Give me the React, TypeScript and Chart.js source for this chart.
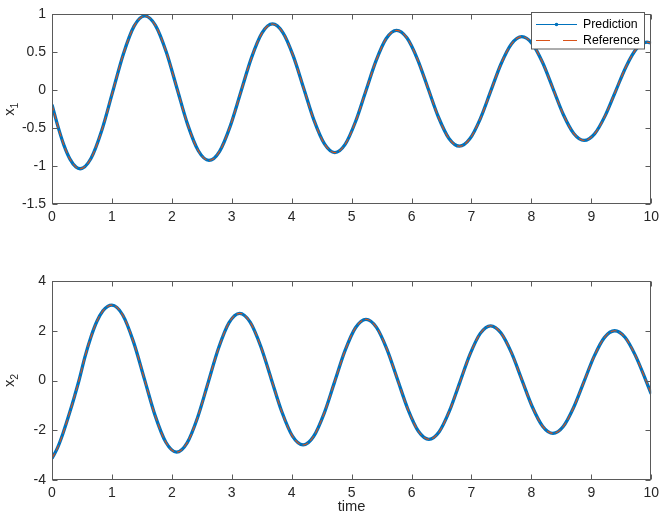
import React, { useEffect, useRef } from "react";
import { Chart, registerables } from "chart.js";

Chart.register(...registerables);

// ---- data ----
const time1 = [
  0, 0.1, 0.2, 0.3, 0.4, 0.47,
  0.65, 0.83, 1.01, 1.19, 1.37, 1.55,
  1.728, 1.907, 2.085, 2.263, 2.442, 2.62,
  2.797, 2.973, 3.15, 3.327, 3.503, 3.68,
  3.853, 4.027, 4.2, 4.373, 4.547, 4.72,
  4.892, 5.063, 5.235, 5.407, 5.578, 5.75,
  5.925, 6.1, 6.275, 6.45, 6.625, 6.8,
  6.973, 7.147, 7.32, 7.493, 7.667, 7.84,
  8.013, 8.187, 8.36, 8.533, 8.707, 8.88,
  9.055, 9.23, 9.405, 9.58, 9.755, 9.93, 10,
];
const x1Prediction = [
  -0.19, -0.48, -0.727, -0.908, -1.013, -1.035,
  -0.9, -0.531, -0.028, 0.476, 0.845, 0.98,
  0.852, 0.504, 0.027, -0.45, -0.798, -0.926,
  -0.805, -0.476, -0.026, 0.424, 0.753, 0.874,
  0.76, 0.45, 0.026, -0.398, -0.708, -0.822,
  -0.714, -0.419, -0.016, 0.387, 0.682, 0.79,
  0.688, 0.408, 0.026, -0.356, -0.636, -0.738,
  -0.641, -0.377, -0.016, 0.346, 0.61, 0.707,
  0.615, 0.365, 0.023, -0.32, -0.57, -0.662,
  -0.575, -0.338, -0.014, 0.311, 0.548, 0.635, 0.62,
];
const x1Reference = [
  -0.19, -0.48, -0.727, -0.908, -1.013, -1.035,
  -0.9, -0.531, -0.028, 0.476, 0.845, 0.98,
  0.852, 0.504, 0.027, -0.45, -0.798, -0.926,
  -0.805, -0.476, -0.026, 0.424, 0.753, 0.874,
  0.76, 0.45, 0.026, -0.398, -0.708, -0.822,
  -0.714, -0.419, -0.016, 0.387, 0.682, 0.79,
  0.688, 0.408, 0.026, -0.356, -0.636, -0.738,
  -0.641, -0.377, -0.016, 0.346, 0.61, 0.707,
  0.615, 0.365, 0.023, -0.32, -0.57, -0.662,
  -0.575, -0.338, -0.014, 0.311, 0.548, 0.635, 0.62,
];

const time2 = [
  0, 0.09, 0.18, 0.3, 0.38, 0.45, 0.55, 0.65, 0.75, 0.85, 0.93, 1.0,
  1.18, 1.36, 1.54, 1.72, 1.9, 2.08,
  2.255, 2.43, 2.605, 2.78, 2.955, 3.13,
  3.307, 3.483, 3.66, 3.837, 4.013, 4.19,
  4.365, 4.54, 4.715, 4.89, 5.065, 5.24,
  5.415, 5.59, 5.765, 5.94, 6.115, 6.29,
  6.462, 6.633, 6.805, 6.977, 7.148, 7.32,
  7.493, 7.667, 7.84, 8.013, 8.187, 8.36,
  8.532, 8.703, 8.875, 9.047, 9.218, 9.39,
  9.562, 9.733, 9.905, 10,
];
const x2Prediction = [
  -3.13, -2.72, -2.15, -1.25, -0.6, 0, 0.95, 1.75, 2.38, 2.8, 2.98, 3.03,
  2.634, 1.553, 0.075, -1.403, -2.484, -2.88,
  -2.506, -1.485, -0.09, 1.305, 2.326, 2.7,
  2.346, 1.378, 0.055, -1.268, -2.236, -2.59,
  -2.252, -1.328, -0.065, 1.198, 2.122, 2.46,
  2.137, 1.254, 0.048, -1.159, -2.042, -2.365,
  -2.059, -1.224, -0.083, 1.059, 1.894, 2.2,
  1.91, 1.119, 0.038, -1.044, -1.835, -2.125,
  -1.849, -1.094, -0.063, 0.969, 1.724, 2.0,
  1.737, 1.02, 0.04, -0.54,
];
const x2Reference = [
  -3.13, -2.72, -2.15, -1.25, -0.6, 0, 0.95, 1.75, 2.38, 2.8, 2.98, 3.03,
  2.634, 1.553, 0.075, -1.403, -2.484, -2.88,
  -2.506, -1.485, -0.09, 1.305, 2.326, 2.7,
  2.346, 1.378, 0.055, -1.268, -2.236, -2.59,
  -2.252, -1.328, -0.065, 1.198, 2.122, 2.46,
  2.137, 1.254, 0.048, -1.159, -2.042, -2.365,
  -2.059, -1.224, -0.083, 1.059, 1.894, 2.2,
  1.91, 1.119, 0.038, -1.044, -1.835, -2.125,
  -1.849, -1.094, -0.063, 0.969, 1.724, 2.0,
  1.737, 1.02, 0.04, -0.54,
];

const seriesNames = ["Prediction", "Reference"];
const xTitle = "time";

const FONT = '"Liberation Sans", Arial, Helvetica, sans-serif';
const BLUE = "#0072BD";
const ORANGE = "#D95319";
const AXIS = "#5a5a5a";
const TEXT = "#262626";

function pts(t: number[], v: number[]) {
  return t.map((x, i) => ({ x, y: v[i] }));
}

function axesPlugin(opts: {
  yLabelSub: string;
  showLegend: boolean;
  showTime: boolean;
}) {
  return {
    id: "matlabAxes",
    afterDatasetsDraw(chart: any) {
      const { ctx, chartArea: a, scales } = chart;
      ctx.save();
      ctx.strokeStyle = AXIS;
      ctx.lineWidth = 1;
      ctx.setLineDash([]);
      const L = Math.round(a.left) + 0.5;
      const R = Math.round(a.right) - 0.5;
      const T = Math.round(a.top) + 0.5;
      const B = Math.round(a.bottom) - 0.5;
      ctx.strokeRect(L, T, R - L, B - T);
      const tl = 5;
      ctx.beginPath();
      scales.x.ticks.forEach((tk: any) => {
        const px = Math.round(scales.x.getPixelForValue(tk.value)) + 0.5;
        ctx.moveTo(px, B);
        ctx.lineTo(px, B - tl);
        ctx.moveTo(px, T);
        ctx.lineTo(px, T + tl);
      });
      scales.y.ticks.forEach((tk: any) => {
        const py = Math.round(scales.y.getPixelForValue(tk.value)) + 0.5;
        ctx.moveTo(L, py);
        ctx.lineTo(L + tl, py);
        ctx.moveTo(R, py);
        ctx.lineTo(R - tl, py);
      });
      ctx.stroke();
      ctx.restore();
    },
    afterDraw(chart: any) {
      const { ctx, chartArea: a } = chart;
      ctx.save();
      // y axis title x_n
      const cy = (a.top + a.bottom) / 2;
      const cx = 14;
      ctx.translate(cx, cy);
      ctx.rotate(-Math.PI / 2);
      ctx.fillStyle = TEXT;
      ctx.textBaseline = "alphabetic";
      ctx.textAlign = "left";
      ctx.font = `14.7px ${FONT}`;
      const wx = ctx.measureText("x").width;
      ctx.font = `10.5px ${FONT}`;
      const ws = ctx.measureText(opts.yLabelSub).width;
      const start = -(wx + ws) / 2;
      ctx.font = `14.7px ${FONT}`;
      ctx.fillText("x", start, 0);
      ctx.font = `10.5px ${FONT}`;
      ctx.fillText(opts.yLabelSub, start + wx, 3.5);
      ctx.restore();

      if (opts.showTime) {
        ctx.save();
        ctx.fillStyle = TEXT;
        ctx.font = `14.7px ${FONT}`;
        ctx.textAlign = "center";
        ctx.textBaseline = "middle";
        ctx.fillText(xTitle, (a.left + a.right) / 2, a.bottom + 27);
        ctx.restore();
      }

      if (opts.showLegend) {
        ctx.save();
        const bx = 531.5, by = 12.5, bw = 113, bh = 36.5;
        ctx.fillStyle = "#ffffff";
        ctx.fillRect(bx, by, bw, bh);
        ctx.strokeStyle = AXIS;
        ctx.lineWidth = 1;
        ctx.strokeRect(bx, by, bw, bh);
        const lx0 = 536, lx1 = 577;
        const y1 = 24.5, y2 = 40.5;
        // prediction sample
        ctx.strokeStyle = BLUE;
        ctx.lineWidth = 1;
        ctx.beginPath();
        ctx.moveTo(lx0, y1);
        ctx.lineTo(lx1, y1);
        ctx.stroke();
        ctx.fillStyle = BLUE;
        ctx.beginPath();
        ctx.arc((lx0 + lx1) / 2, y1, 1.8, 0, Math.PI * 2);
        ctx.fill();
        // reference sample
        ctx.strokeStyle = ORANGE;
        ctx.setLineDash([14, 13]);
        ctx.beginPath();
        ctx.moveTo(lx0, y2);
        ctx.lineTo(lx1, y2);
        ctx.stroke();
        ctx.setLineDash([]);
        ctx.fillStyle = "#000000";
        ctx.font = `12.3px ${FONT}`;
        ctx.textAlign = "left";
        ctx.textBaseline = "middle";
        ctx.fillText(seriesNames[0], 583, y1);
        ctx.fillText(seriesNames[1], 583, y2);
        ctx.restore();
      }
    },
  };
}

function makeChart(
  canvas: HTMLCanvasElement,
  cfg: {
    t: number[];
    pred: number[];
    ref: number[];
    yMin: number;
    yMax: number;
    yStep: number;
    padTop: number;
    xAxisH: number;
    sub: string;
    legend: boolean;
    time: boolean;
  }
) {
  return new Chart(canvas, {
    type: "line",
    data: {
      datasets: [
        {
          label: seriesNames[0],
          data: pts(cfg.t, cfg.pred),
          borderColor: BLUE,
          borderWidth: 3.3,
          pointRadius: 0,
          cubicInterpolationMode: "monotone",
          fill: false,
          order: 2,
        },
        {
          label: seriesNames[1],
          data: pts(cfg.t, cfg.ref),
          borderColor: ORANGE,
          borderWidth: 1.1,
          borderDash: [6, 3],
          pointRadius: 0,
          cubicInterpolationMode: "monotone",
          fill: false,
          order: 1,
        },
      ],
    },
    options: {
      animation: false,
      responsive: false,
      devicePixelRatio: 1,
      layout: { padding: { top: cfg.padTop, right: 8, left: 0, bottom: 0 } },
      plugins: {
        legend: { display: false },
        tooltip: { enabled: false },
      },
      scales: {
        x: {
          type: "linear",
          min: 0,
          max: 10,
          grid: { display: false, drawTicks: false },
          border: { display: false },
          ticks: {
            stepSize: 1,
            padding: 5,
            color: TEXT,
            font: { family: FONT, size: 14 },
            maxRotation: 0,
            callback: (v: any) => String(Math.round(Number(v) * 100) / 100),
          },
          afterFit: (s: any) => {
            s.height = cfg.xAxisH;
          },
        },
        y: {
          type: "linear",
          min: cfg.yMin,
          max: cfg.yMax,
          grid: { display: false, drawTicks: false },
          border: { display: false },
          ticks: {
            stepSize: cfg.yStep,
            padding: 6,
            color: TEXT,
            font: { family: FONT, size: 14 },
            callback: (v: any) => String(Math.round(Number(v) * 100) / 100),
          },
          afterFit: (s: any) => {
            s.width = 52;
          },
        },
      },
    } as any,
    plugins: [axesPlugin({ yLabelSub: cfg.sub, showLegend: cfg.legend, showTime: cfg.time })],
  });
}

export default function App() {
  const topRef = useRef<HTMLCanvasElement | null>(null);
  const botRef = useRef<HTMLCanvasElement | null>(null);

  useEffect(() => {
    document.body.style.margin = "0";
    const c1 = makeChart(topRef.current!, {
      t: time1,
      pred: x1Prediction,
      ref: x1Reference,
      yMin: -1.5,
      yMax: 1,
      yStep: 0.5,
      padTop: 5,
      xAxisH: 46,
      sub: "1",
      legend: true,
      time: false,
    });
    const c2 = makeChart(botRef.current!, {
      t: time2,
      pred: x2Prediction,
      ref: x2Reference,
      yMin: -4,
      yMax: 4,
      yStep: 2,
      padTop: 31,
      xAxisH: 41,
      sub: "2",
      legend: false,
      time: true,
    });
    return () => {
      c1.destroy();
      c2.destroy();
    };
  }, []);

  return (
    <div style={{ position: "relative", width: 664, height: 521, background: "#fff" }}>
      <canvas
        ref={topRef}
        width={664}
        height={250}
        style={{ position: "absolute", left: 0, top: 0, width: 664, height: 250 }}
      />
      <canvas
        ref={botRef}
        width={664}
        height={271}
        style={{ position: "absolute", left: 0, top: 250, width: 664, height: 271 }}
      />
    </div>
  );
}
